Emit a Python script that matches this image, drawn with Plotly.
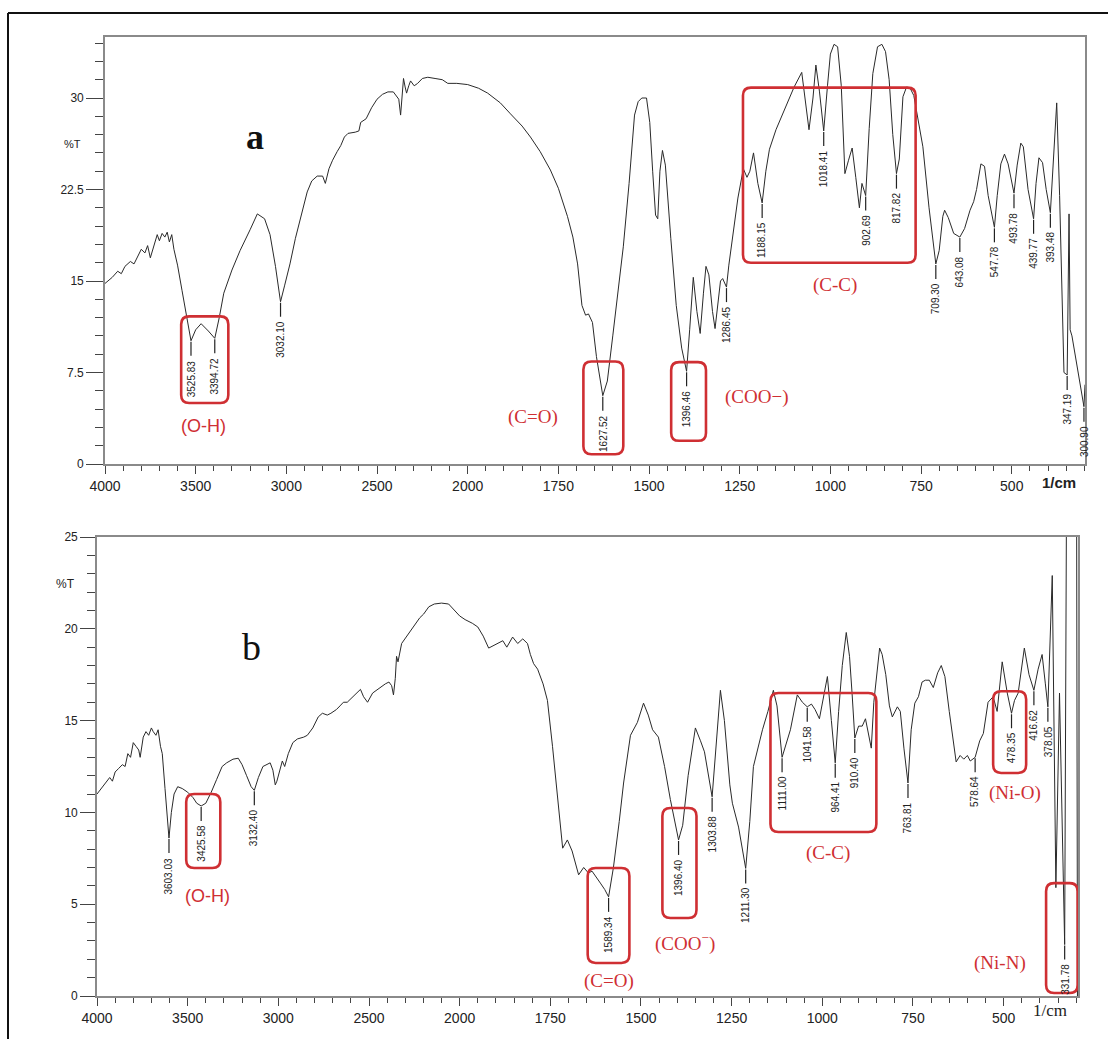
import plotly.graph_objects as go

# ---------------- data: spectrum a ----------------
wn_a = [4000, 3960, 3930, 3910, 3890, 3860, 3840, 3815, 3800, 3780, 3765, 3750, 3730, 3712, 3700,
        3685, 3670, 3657, 3645, 3632, 3620, 3600, 3575, 3550, 3525.83, 3500, 3470, 3430, 3394.72,
        3370, 3345, 3300, 3255, 3200, 3160, 3120, 3090, 3060, 3032.10, 3010, 2980, 2950, 2920, 2885,
        2860, 2830, 2800, 2785, 2765, 2745, 2720, 2700, 2680, 2660, 2620, 2600, 2590, 2560, 2530,
        2500, 2470, 2440, 2410, 2380, 2370, 2360, 2354, 2345, 2337, 2325, 2315, 2295, 2276, 2250,
        2220, 2180, 2140, 2110, 2060, 2000, 1970, 1945, 1910, 1882, 1850, 1827, 1800, 1772, 1750,
        1725, 1710, 1697, 1685, 1675, 1667, 1656, 1645, 1627.52, 1615, 1600, 1585, 1571, 1555, 1540,
        1530, 1520, 1507, 1498, 1490, 1482, 1476, 1470, 1463, 1455, 1440, 1425, 1410, 1396.46, 1388,
        1378, 1368, 1359, 1350, 1343, 1335, 1325, 1318, 1310, 1303, 1297, 1286.45, 1280, 1270, 1255,
        1240, 1230, 1222, 1212, 1200, 1188.15, 1178, 1168, 1150, 1120, 1100, 1079, 1070, 1059, 1048,
        1040, 1030, 1018.41, 1008, 1000, 990, 980, 970, 960, 950, 940, 930, 920, 913, 902.69, 893,
        883, 870, 858, 848, 838, 828, 817.82, 810, 800, 790, 780, 770, 760, 745, 728, 709.30, 700,
        690, 685, 675, 660, 643.08, 630, 615, 605, 597, 585, 575, 565, 547.78, 540, 530, 520, 510,
        493.78, 485, 475, 468, 455, 439.77, 433, 425, 415, 405, 393.48, 385, 376, 368, 356, 347.19,
        342, 339, 334, 300.90, 298]
t_a = [14.8, 15.3, 15.8, 15.6, 16.2, 16.6, 16.4, 17.1, 17.6, 17.3, 17.9, 16.9, 18.0, 18.8, 18.3,
       18.9, 18.6, 19.0, 18.2, 18.8, 17.6, 16.3, 14.2, 12.2, 10.1, 11.0, 11.5, 10.9, 10.3,
       12.0, 14.0, 15.9, 17.5, 19.2, 20.5, 20.1, 18.8, 16.2, 13.3, 14.6, 16.4, 18.5, 20.2, 22.3,
       23.2, 23.6, 23.6, 23.0, 24.2, 24.9, 25.6, 26.1, 26.8, 27.1, 27.2, 27.3, 28.0, 28.3, 29.2,
       29.9, 30.3, 30.5, 30.5, 29.9, 28.6, 30.3, 31.6, 30.9, 30.4, 31.0, 31.4, 31.0, 31.2, 31.6,
       31.7, 31.6, 31.5, 31.2, 31.2, 31.1, 30.8, 30.4, 29.6, 28.7, 27.7, 26.8, 25.6, 24.1, 22.6,
       20.3, 18.6, 16.4, 13.0, 12.2, 12.3, 11.6, 8.8, 5.6, 6.8, 10.5, 14.5, 17.8, 23.0, 28.6,
       29.7, 30.0, 30.0, 28.0, 24.0, 20.4, 20.1, 24.0, 25.7, 24.5, 18.5, 13.0, 9.5, 7.6, 11.0,
       15.3, 12.5, 10.7, 14.0, 16.2, 15.5, 12.5, 11.1, 13.0, 15.0, 15.2, 14.5, 16.3, 18.5, 21.8,
       24.2, 23.5, 24.0, 25.5, 23.0, 21.4, 24.0, 25.8, 27.4, 29.5, 30.9, 32.1, 30.0, 27.4, 30.0,
       32.7, 30.5, 27.3, 31.0, 33.6, 34.4, 34.2, 31.0, 23.8, 24.9, 25.9, 23.5, 21.0, 23.0, 22.0, 27.5,
       32.0, 34.2, 34.4, 33.8, 31.5, 27.0, 23.8, 25.0, 30.1, 30.9, 30.8, 30.2, 28.5, 26.0, 21.0, 16.4, 17.5,
       20.3, 20.8, 20.2, 18.9, 18.6, 19.3, 20.8, 21.5, 22.5, 24.6, 24.4, 22.0, 19.4, 22.0, 24.6, 25.4, 24.6,
       22.2, 24.5, 26.3, 26.0, 22.5, 20.1, 23.0, 25.1, 24.7, 22.5, 20.6, 25.5, 29.6, 22.0, 7.5, 7.3,
       20.5, 11.0, 10.5, 4.7, 6.5]

# ---------------- data: spectrum b ----------------
wn_b = [4000, 3975, 3950, 3930, 3915, 3900, 3880, 3860, 3845, 3830, 3815, 3800, 3785, 3770, 3762,
        3745, 3730, 3715, 3700, 3690, 3675, 3663, 3650, 3640, 3625, 3603.03, 3590, 3575, 3555, 3530,
        3500, 3470, 3450, 3425.58, 3400, 3370, 3340, 3310, 3285, 3250, 3221, 3200, 3175, 3150,
        3132.40, 3110, 3085, 3060, 3045, 3030, 3017, 3008, 2995, 2978, 2965, 2945, 2920, 2895, 2860,
        2840, 2810, 2780, 2757, 2730, 2710, 2680, 2660, 2641, 2620, 2590, 2560, 2547, 2530, 2508,
        2480, 2440, 2410, 2390, 2375, 2365, 2355, 2348, 2340, 2320, 2290, 2254, 2220, 2199, 2170,
        2140, 2100, 2061, 2030, 2000, 1985, 1965, 1950, 1935, 1920, 1905, 1892, 1881, 1870, 1854,
        1840, 1826, 1813, 1805, 1796, 1785, 1770, 1758, 1744, 1730, 1716, 1703, 1690, 1672, 1658,
        1645, 1635, 1612, 1600, 1589.34, 1576, 1560, 1548, 1529, 1510, 1493, 1480, 1468, 1452,
        1435, 1419, 1396.40, 1385, 1370, 1350, 1336, 1325, 1303.88, 1292, 1281, 1270, 1255, 1248,
        1231, 1211.30, 1200, 1190, 1165, 1150, 1135, 1125, 1111.00, 1088, 1069, 1055, 1041.58, 1030,
        1020, 1008, 995, 986, 975, 964.41, 955, 945, 934, 925, 918, 910.40, 900, 890, 881, 872, 865,
        858, 842, 835, 825, 815, 807, 793, 785, 775, 763.81, 755, 745, 735, 725, 716, 705, 694, 682,
        672, 662, 650, 631, 620, 610, 600, 592, 578.64, 566, 556, 543, 529, 518, 504, 490, 478.35,
        470, 460, 443, 430, 416.62, 405, 394, 385, 378.05, 366, 356, 346, 331.78, 324, 300, 296]
t_b = [11.0, 11.3, 11.6, 11.9, 11.7, 12.2, 12.4, 12.6, 12.5, 13.2, 13.0, 13.8, 13.6, 13.4, 13.0,
       14.1, 14.4, 14.2, 14.6, 14.4, 14.2, 14.5, 13.6, 13.2, 11.3, 8.6, 10.0, 11.0, 11.4, 11.3,
       11.1, 10.8, 10.5, 10.35, 10.5, 11.1, 11.8, 12.5, 12.7, 12.9, 12.95, 12.6, 12.0, 11.4,
       11.2, 11.9, 12.5, 12.6, 12.7, 12.3, 11.5, 11.7, 12.2, 12.8, 12.5, 13.2, 13.8, 14.0, 14.1,
       14.2, 14.6, 15.2, 15.4, 15.3, 15.4, 15.6, 15.8, 16.0, 16.0, 16.3, 16.6, 16.7, 16.3, 16.0,
       16.5, 16.8, 17.0, 17.1, 16.9, 16.4, 17.3, 18.5, 18.2, 19.2, 19.6, 20.1, 20.6, 20.8, 21.2,
       21.35, 21.4, 21.35, 21.0, 20.7, 20.5, 20.3, 20.1, 19.6, 18.95, 19.1, 19.2, 19.35, 19.0, 19.55,
       19.2, 19.45, 19.2, 18.6, 18.1, 17.8, 17.0, 16.1, 13.6, 10.7, 8.05, 8.5, 7.9, 6.6, 7.0,
       6.7, 6.8, 6.15, 5.8, 5.4, 7.0, 9.5, 11.6, 14.2, 14.9, 15.95, 15.3, 14.5, 14.1,
       12.5, 10.7, 8.5, 9.3, 12.0, 14.6, 13.9, 13.3, 10.85, 14.0, 16.65, 15.0, 11.5, 10.5,
       9.2, 6.95, 9.5, 12.5, 14.5, 15.5, 16.65, 15.8, 13.0, 14.5, 16.4, 16.0, 15.75, 15.9,
       15.6, 15.1, 16.4, 17.4, 15.0, 12.7, 15.5, 18.0, 19.8, 18.5, 16.5, 14.05, 14.7, 14.7, 15.1, 14.2, 13.5,
       16.0, 18.95, 18.6, 17.5, 15.8, 15.2, 15.75, 15.5, 13.5, 11.6, 14.5, 15.95, 16.3, 17.1, 17.2, 17.2, 16.8, 17.6,
       18.0, 17.4, 15.5, 12.75, 13.1, 12.9, 13.1, 12.8, 13.0, 13.9, 14.3, 16.0, 16.3, 15.5, 18.2, 16.5, 15.4,
       16.1, 16.5, 18.95, 17.5, 16.65, 17.8, 18.6, 17.0, 15.75, 22.9, 5.9, 16.5, 2.8, 40.0, 40.0, -5.0]

# ---------------- labelled peaks ----------------
peaks_a_wn = [3525.83, 3394.72, 3032.10, 1627.52, 1396.46, 1286.45, 1188.15, 1018.41, 902.69,
              817.82, 709.30, 643.08, 547.78, 493.78, 439.77, 393.48, 347.19, 300.90]
peaks_a_t = [10.1, 10.3, 13.3, 5.6, 7.6, 14.5, 21.4, 27.3, 22.0, 23.8, 16.4, 18.6, 19.4, 22.2,
             20.1, 20.6, 7.3, 4.7]
peaks_b_wn = [3603.03, 3425.58, 3132.40, 1589.34, 1396.40, 1303.88, 1211.30, 1111.00, 1041.58,
              964.41, 910.40, 763.81, 578.64, 478.35, 416.62, 378.05, 331.78]
peaks_b_t = [8.6, 10.35, 11.2, 5.4, 8.5, 10.85, 6.95, 13.0, 15.75, 12.7, 14.05, 11.6, 13.0, 15.4,
             16.65, 15.75, 2.8]

# ---------------- band assignments (box ranges in wavenumber / %T) ----------------
bands_a = ["(O-H)", "(C=O)", "(COO\u2212)", "(C-C)"]
bands_a_box = [(3580, 3320, 5.0, 12.1), (1681, 1571, 0.8, 8.4), (1439, 1343, 1.9, 8.35),
               (1241, 765, 16.5, 30.85)]
bands_a_txt = [(3459, 3.1), (1821, 3.85), (1202, 5.5), (988, 14.65)]
bands_b = ["(O-H)", "(C=O)", "(COO<sup>\u2212</sup>)", "(C-C)", "(Ni-O)", "(Ni-N)"]
bands_b_box = [(3508, 3320, 6.97, 11.0), (1647, 1532, 1.8, 6.97), (1441, 1347, 4.25, 10.24),
               (1143, 851, 8.93, 16.5), (529, 438, 12.15, 16.6), (383, 296, 0.16, 6.15)]
bands_b_txt = [(3392, 5.45), (1587, 0.82), (1380, 2.94), (983, 7.8), (468, 11.06), (510, 1.8)]

x_tick_wn = [4000, 3500, 3000, 2500, 2000, 1750, 1500, 1250, 1000, 750, 500]
ya_ticks = [0, 7.5, 15, 22.5, 30]
ya_text = ["0", "7.5", "15", "22.5", "30"]
yb_ticks = [0, 5, 10, 15, 20, 25]

W, H = 1108, 1039
RED = "#cf2f33"
LINE = "#2a2a2a"


def u(w):
    # FTIR axis: scale doubles below 2000 cm-1
    return w if w >= 2000 else 2 * w - 2000


def ppx(x):
    return x / W


def ppy(y):
    return 1 - y / H


minor_wn = [w for w in range(4000, 2000, -100)] + [w for w in range(2000, 290, -50)]
minor_u = [u(w) for w in minor_wn if w not in x_tick_wn]

fig = go.Figure()
fig.add_trace(go.Scatter(x=[u(w) for w in wn_a], y=t_a, mode="lines",
                         line=dict(color=LINE, width=1), xaxis="x", yaxis="y", hoverinfo="skip"))
fig.add_trace(go.Scatter(x=[u(w) for w in wn_b], y=t_b, mode="lines",
                         line=dict(color=LINE, width=1), xaxis="x2", yaxis="y2", hoverinfo="skip"))

tickfont_x = dict(family="Liberation Sans, Arial, sans-serif", size=14, color="#222")
tickfont_y = dict(family="Liberation Sans, Arial, sans-serif", size=12, color="#222")


def xaxis_cfg(dom, anchor, umin):
    return dict(domain=dom, anchor=anchor, range=[4000, umin], tickmode="array",
                tickvals=[u(w) for w in x_tick_wn], ticktext=[str(w) for w in x_tick_wn],
                ticks="outside", ticklen=8, tickwidth=1.3, tickcolor="#444",
                minor=dict(tickmode="array", tickvals=minor_u, ticks="outside", ticklen=5,
                           tickwidth=1.3, tickcolor="#444"),
                showline=True, linecolor="#8a8a8a", linewidth=1.6, mirror=True,
                showgrid=False, zeroline=False, tickfont=tickfont_x, automargin=False)


fig.update_layout(
    width=W, height=H, margin=dict(l=0, r=0, t=0, b=0, pad=0, autoexpand=False),
    paper_bgcolor="white", plot_bgcolor="white", showlegend=False,
    xaxis=xaxis_cfg([105 / W, 1085 / W], "y", u(298)),
    xaxis2=xaxis_cfg([97 / W, 1078 / W], "y2", u(295)),
    yaxis=dict(domain=[ppy(464), ppy(37)], anchor="x", range=[0, 35], tickmode="array",
               tickvals=ya_ticks, ticktext=ya_text, ticks="outside", ticklen=17, tickwidth=1.3,
               tickcolor="#444",
               minor=dict(tickmode="linear", tick0=0, dtick=1.5, ticks="outside", ticklen=8,
                          tickwidth=1.3, tickcolor="#444"),
               showline=True, linecolor="#8a8a8a", linewidth=1.6, mirror=True,
               showgrid=False, zeroline=False, tickfont=tickfont_y, automargin=False),
    yaxis2=dict(domain=[ppy(996), ppy(537)], anchor="x2", range=[0, 25], tickmode="array",
                tickvals=yb_ticks, ticktext=[str(v) for v in yb_ticks], ticks="outside",
                ticklen=15, tickwidth=1.3, tickcolor="#444",
                minor=dict(tickmode="linear", tick0=0, dtick=1, ticks="outside", ticklen=8,
                           tickwidth=1.3, tickcolor="#444"),
                showline=True, linecolor="#8a8a8a", linewidth=1.6, mirror=True,
                showgrid=False, zeroline=False, tickfont=tickfont_y, automargin=False),
)

shapes = []
annots = []


def rbox(b, xr, yr, rx, ry):
    xa, xb = sorted([u(b[0]), u(b[1])])
    ya, yb = b[2], b[3]
    p = (f"M {xa+rx},{ya} L {xb-rx},{ya} Q {xb},{ya} {xb},{ya+ry} L {xb},{yb-ry} "
         f"Q {xb},{yb} {xb-rx},{yb} L {xa+rx},{yb} Q {xa},{yb} {xa},{yb-ry} "
         f"L {xa},{ya+ry} Q {xa},{ya} {xa+rx},{ya} Z")
    return dict(type="path", path=p, xref=xr, yref=yr, line=dict(color=RED, width=2.6),
                layer="above")


for wl, tl, xr, yr in [(peaks_a_wn, peaks_a_t, "x", "y"), (peaks_b_wn, peaks_b_t, "x2", "y2")]:
    for w, t in zip(wl, tl):
        shapes.append(dict(type="line", xref=xr, yref=yr, x0=u(w), x1=u(w),
                           ysizemode="pixel", yanchor=t, y0=-1, y1=-15,
                           line=dict(color="#222", width=1.2)))
        annots.append(dict(x=u(w), y=t, xref=xr, yref=yr, yshift=-17, text=f"{w:.2f}",
                           textangle=-90, xanchor="center", yanchor="top", showarrow=False,
                           font=dict(family="Liberation Sans Narrow, Liberation Sans, Arial",
                                     size=10, color="#222")))

for b in bands_a_box:
    shapes.append(rbox(b, "x", "y", 44, 0.65))
for b in bands_b_box:
    shapes.append(rbox(b, "x2", "y2", 44, 0.44))

for i, (name, (w, t)) in enumerate(zip(bands_a, bands_a_txt)):
    fam = "Liberation Sans, Arial" if i == 0 else "Liberation Serif, Times New Roman, serif"
    annots.append(dict(x=u(w), y=t, xref="x", yref="y", text=name, showarrow=False,
                       xanchor="center", yanchor="middle",
                       font=dict(family=fam, size=18 if i == 0 else 19, color=RED)))
for i, (name, (w, t)) in enumerate(zip(bands_b, bands_b_txt)):
    fam = "Liberation Sans, Arial" if i == 0 else "Liberation Serif, Times New Roman, serif"
    annots.append(dict(x=u(w), y=t, xref="x2", yref="y2", text=name, showarrow=False,
                       xanchor="center", yanchor="middle",
                       font=dict(family=fam, size=18 if i == 0 else 19, color=RED)))

# panel letters
annots.append(dict(x=u(3171), y=26.8, xref="x", yref="y", text="<b>a</b>", showarrow=False,
                   xanchor="center", yanchor="middle",
                   font=dict(family="Liberation Serif, Times New Roman, serif", size=36,
                             color="#111")))
annots.append(dict(x=u(3149), y=19.0, xref="x2", yref="y2", text="b", showarrow=False,
                   xanchor="center", yanchor="middle",
                   font=dict(family="Liberation Serif, Times New Roman, serif", size=38,
                             color="#111")))

# axis titles
ctr = dict(xref="paper", yref="paper", showarrow=False, xanchor="center", yanchor="middle")
annots.append(dict(x=ppx(72), y=ppy(144), text="%T",
                   font=dict(family="Liberation Sans, Arial", size=11, color="#222"), **ctr))
annots.append(dict(x=ppx(65), y=ppy(584), text="%T",
                   font=dict(family="Liberation Sans, Arial", size=12, color="#222"), **ctr))
annots.append(dict(x=ppx(1059), y=ppy(483), text="<b>1/cm</b>",
                   font=dict(family="Liberation Sans, Arial", size=15, color="#222"), **ctr))
annots.append(dict(x=ppx(1050), y=ppy(1010), text="1/cm",
                   font=dict(family="Liberation Serif, Times New Roman", size=17,
                             color="#222"), **ctr))

# outer frame (top and left edges)
shapes.append(dict(type="line", xref="paper", yref="paper", x0=ppx(8), x1=1.0, y0=ppy(13),
                   y1=ppy(13), line=dict(color="#111", width=2)))
shapes.append(dict(type="line", xref="paper", yref="paper", x0=ppx(8), x1=ppx(8), y0=ppy(13),
                   y1=0, line=dict(color="#111", width=2)))

fig.update_layout(shapes=shapes, annotations=annots)
fig.write_html("out.html", config={"displayModeBar": False},
               post_script="document.body.style.margin='0';document.body.style.overflow='hidden';")
